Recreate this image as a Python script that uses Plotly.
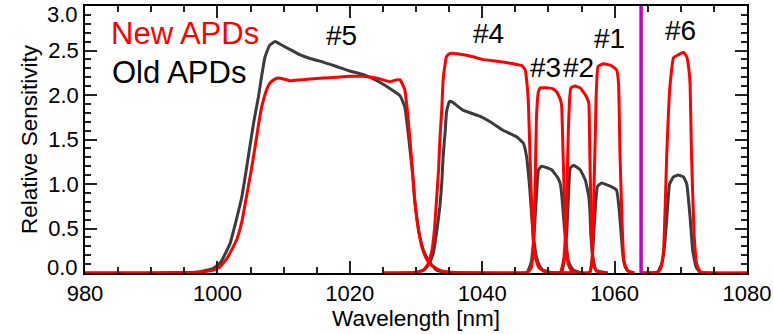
import plotly.graph_objects as go

# ---------------- data ----------------
ch5_new_wl = [980, 990, 996, 998, 999.5, 1000.4, 1001.5, 1002.9, 1003.7, 1004.4, 1005.1, 1005.7, 1006.2, 1006.7,
              1007.3, 1007.9, 1008.5, 1009.2, 1010, 1011, 1012.5, 1014, 1016, 1018, 1020, 1022, 1024, 1025, 1026.1,
              1027, 1027.6, 1028.3, 1028.7, 1029.1, 1029.5, 1029.8, 1030.3, 1030.9, 1031.5, 1032.1, 1033.6, 1036, 1045]
ch5_new = [0, 0, 0.005, 0.015, 0.035, 0.07, 0.17, 0.37, 0.58, 0.86, 1.15, 1.42, 1.66, 1.87,
           2.03, 2.13, 2.17, 2.19, 2.18, 2.16, 2.17, 2.18, 2.19, 2.20, 2.21, 2.21, 2.19, 2.17, 2.15,
           2.17, 2.17, 2.06, 1.82, 1.49, 1.12, 0.82, 0.52, 0.29, 0.17, 0.10, 0.03, 0.005, 0]

ch5_old_wl = [980, 990, 995, 997.4, 999.3, 1000.5, 1001.9, 1002.8, 1003.7, 1004.3, 1004.9, 1005.5, 1006.2, 1006.7,
              1007.2, 1007.9, 1008.7, 1009.5, 1011, 1012.5, 1014, 1016, 1018, 1020, 1022, 1023, 1024.6, 1026.1,
              1027.6, 1028.3, 1028.7, 1029.1, 1029.5, 1029.8, 1030.2, 1030.6, 1031.2, 1031.9, 1033.1, 1035, 1045]
ch5_old = [0, 0, 0.005, 0.015, 0.05, 0.12, 0.33, 0.58, 0.86, 1.13, 1.42, 1.70, 1.98, 2.22,
           2.43, 2.56, 2.60, 2.57, 2.51, 2.45, 2.41, 2.37, 2.32, 2.27, 2.23, 2.20, 2.14, 2.07,
           1.99, 1.87, 1.65, 1.38, 1.10, 0.82, 0.58, 0.40, 0.24, 0.14, 0.03, 0.005, 0]

ch4_new_wl = [1025, 1030, 1031.1, 1031.8, 1032.4, 1032.8, 1033.1, 1033.4, 1033.6, 1033.9, 1034.1, 1034.4, 1034.6,
              1035.0, 1035.4, 1036.5, 1038.6, 1040, 1042.2, 1044, 1045.4, 1046.0, 1046.5, 1046.8, 1047.0, 1047.3,
              1047.5, 1047.7, 1048.0, 1048.5, 1049.5, 1055]
ch4_new = [0, 0.005, 0.03, 0.10, 0.25, 0.50, 0.82, 1.15, 1.49, 1.85, 2.17, 2.35, 2.43,
           2.46, 2.47, 2.46, 2.43, 2.40, 2.38, 2.36, 2.34, 2.33, 2.28, 2.10, 1.87, 1.12,
           0.70, 0.37, 0.18, 0.07, 0.01, 0]

ch4_old_wl = [1025, 1030, 1031.3, 1032.0, 1032.6, 1033.1, 1033.6, 1033.9, 1034.1, 1034.4, 1034.6, 1034.9, 1035.1,
              1035.5, 1037.1, 1039.7, 1041.2, 1043, 1045.2, 1046.2, 1046.7, 1047.0, 1047.2, 1047.5, 1047.7, 1048.2,
              1048.6, 1049.2, 1050.5, 1055]
ch4_old = [0, 0.005, 0.04, 0.10, 0.22, 0.45, 0.74, 1.02, 1.31, 1.58, 1.80, 1.90, 1.93,
           1.92, 1.83, 1.76, 1.70, 1.61, 1.53, 1.46, 1.31, 1.10, 0.93, 0.62, 0.44, 0.18,
           0.09, 0.03, 0.005, 0]

ch3_new_wl = [1045, 1046.8, 1047.4, 1047.7, 1048.0, 1048.2, 1048.5, 1048.8, 1049.2, 1050, 1050.7, 1051.2, 1051.5,
              1051.8, 1052.0, 1052.2, 1052.5, 1052.7, 1053.0, 1053.5, 1055]
ch3_new = [0, 0.005, 0.06, 0.25, 1.0, 1.76, 2.04, 2.08, 2.08, 2.08, 2.07, 2.04, 2.0,
           1.95, 1.88, 1.38, 0.63, 0.30, 0.10, 0.02, 0]

ch3_old_wl = [1045, 1046.8, 1047.4, 1047.8, 1048.0, 1048.3, 1048.5, 1049.0, 1050.5, 1051.5, 1051.8, 1052.0, 1052.3,
              1052.5, 1052.8, 1053.0, 1053.4, 1053.8, 1055]
ch3_old = [0, 0.01, 0.12, 0.40, 0.63, 1.00, 1.16, 1.20, 1.16, 1.06, 1.0, 0.89, 0.62,
           0.44, 0.24, 0.14, 0.07, 0.03, 0]

ch2_new_wl = [1050, 1051.8, 1052.3, 1052.7, 1053.0, 1053.2, 1053.4, 1054.0, 1054.8, 1055.6, 1056.1, 1056.2, 1056.3,
              1056.5, 1056.7, 1056.9, 1057.4, 1059]
ch2_new = [0, 0.005, 0.15, 0.63, 1.57, 1.95, 2.08, 2.10, 2.08, 2.0, 1.91, 1.60, 1.19,
           0.44, 0.18, 0.07, 0.01, 0]

ch2_old_wl = [1050, 1052, 1052.5, 1052.8, 1053.0, 1053.3, 1053.8, 1054.8, 1055.6, 1056.1, 1056.3, 1056.4, 1056.6,
              1056.8, 1057.2, 1059]
ch2_old = [0, 0.01, 0.2, 0.5, 0.82, 1.18, 1.21, 1.16, 1.04, 0.86, 0.65, 0.44, 0.25,
           0.14, 0.03, 0]

ch1_new_wl = [1054, 1056.2, 1056.6, 1056.9, 1057.1, 1057.2, 1057.5, 1058.3, 1059.5, 1060.3, 1060.6, 1060.8, 1061.1,
              1061.4, 1061.9, 1063]
ch1_new = [0, 0.005, 0.15, 1.0, 1.6, 1.95, 2.32, 2.35, 2.33, 2.28, 2.13, 1.38, 0.63,
           0.14, 0.03, 0]

ch1_old_wl = [1054, 1056.3, 1056.7, 1057.0, 1057.4, 1058.0, 1059.5, 1060.3, 1060.7, 1061.1, 1061.3, 1061.6, 1062.2, 1063]
ch1_old = [0, 0.01, 0.25, 0.63, 0.97, 1.01, 0.97, 0.93, 0.71, 0.33, 0.17, 0.07, 0.01, 0]

ch6_new_wl = [1064, 1066.5, 1067.0, 1067.4, 1067.9, 1068.2, 1068.4, 1068.9, 1069.6, 1070.4, 1070.9, 1071.2, 1071.4,
              1071.6, 1072.0, 1072.4, 1073, 1080]
ch6_new = [0, 0.005, 0.06, 0.25, 1.38, 1.90, 2.13, 2.42, 2.45, 2.48, 2.43, 2.30, 2.13,
           1.38, 0.44, 0.10, 0.01, 0]

ch6_old_wl = [1064, 1066.5, 1067.2, 1067.6, 1067.9, 1068.3, 1068.9, 1069.6, 1070.4, 1070.9, 1071.4, 1071.8, 1072.3,
              1072.9, 1080]
ch6_old = [0, 0.01, 0.12, 0.35, 0.63, 1.0, 1.08, 1.10, 1.08, 1.0, 0.63, 0.25, 0.07, 0.01, 0]

laser_wl = 1064
channel_names = ["#5", "#4", "#3", "#2", "#1", "#6"]
channel_label_x = [1018.7, 1040.9, 1049.5, 1054.5, 1059.2, 1069.9]
channel_label_y = [2.67, 2.69, 2.31, 2.31, 2.63, 2.72]
series_names = ["New APDs", "Old APDs"]
y_tick_vals = [0.0, 0.5, 1.0, 1.5, 2.0, 2.5, 3.0]
x_range = [980, 1080]
y_range = [0, 3]

# ---------------- figure ----------------
FONT = "Liberation Sans, Arial, sans-serif"
RED = "#ff0000"
DARK = "#3c3c3c"
MAGENTA = "#c000c8"
TICKSIZE = 22
TICKCOL = "#222222"

new_sets = [(ch5_new_wl, ch5_new), (ch4_new_wl, ch4_new), (ch3_new_wl, ch3_new),
            (ch2_new_wl, ch2_new), (ch1_new_wl, ch1_new), (ch6_new_wl, ch6_new)]
old_sets = [(ch5_old_wl, ch5_old), (ch4_old_wl, ch4_old), (ch3_old_wl, ch3_old),
            (ch2_old_wl, ch2_old), (ch1_old_wl, ch1_old), (ch6_old_wl, ch6_old)]

fig = go.Figure()
for wl, v in old_sets:
    fig.add_trace(go.Scatter(x=wl, y=v, mode="lines", showlegend=False, hoverinfo="skip",
                             line=dict(color=DARK, width=3, shape="spline", smoothing=0.35)))
for wl, v in new_sets:
    fig.add_trace(go.Scatter(x=wl, y=v, mode="lines", showlegend=False, hoverinfo="skip",
                             line=dict(color=RED, width=3, shape="spline", smoothing=0.35)))
fig.add_trace(go.Scatter(x=[laser_wl, laser_wl], y=y_range, mode="lines", showlegend=False,
                         hoverinfo="skip", line=dict(color=MAGENTA, width=3.5)))
# invisible helper trace on the top/right axes so that their ticks are drawn
fig.add_trace(go.Scatter(x=x_range, y=y_range, xaxis="x2", yaxis="y2", mode="lines",
                         line=dict(width=0), opacity=0, showlegend=False, hoverinfo="skip"))

for name, x, y in zip(channel_names, channel_label_x, channel_label_y):
    fig.add_annotation(x=x, y=y, xref="x", yref="y", text=name, showarrow=False,
                       font=dict(family=FONT, size=28, color="black"))

L, R, T, B = 85, 26, 6, 61
W, H = 773, 334
pw, ph = W - L - R, H - T - B

def px2paper(x, y):
    return (x - L) / pw, 1 - (y - T) / ph

for txt, col, (px, py) in zip(series_names, [RED, "black"], [(109, 33), (110, 73)]):
    ax_, ay_ = px2paper(px, py)
    fig.add_annotation(x=ax_, y=ay_, xref="paper", yref="paper", text=txt, showarrow=False,
                       xanchor="left", yanchor="middle", font=dict(family=FONT, size=31, color=col))

# y tick labels: the end labels are nudged inward (as in the original), so draw them as annotations
y_tick_text = ["" if v in (y_tick_vals[0], y_tick_vals[-1]) else f"{v:.1f}" for v in y_tick_vals]
for v, shift in [(y_tick_vals[0], 6), (y_tick_vals[-1], -8)]:
    fig.add_annotation(x=0, y=v, xref="paper", yref="y", text=f"{v:.1f}", showarrow=False,
                       xanchor="right", yanchor="middle", xshift=-5, yshift=shift,
                       font=dict(family=FONT, size=TICKSIZE, color="black"))

tick_style = dict(ticks="inside", ticklen=12, tickwidth=1.5, tickcolor=TICKCOL,
                  showgrid=False, zeroline=False)
axis_common = dict(showline=True, linecolor="black", linewidth=1.5, mirror=True, layer="above traces",
                   tickfont=dict(family=FONT, size=TICKSIZE, color="black"), **tick_style)
x_minor = dict(dtick=5, ticks="inside", ticklen=6, tickwidth=1.5, tickcolor=TICKCOL, tick0=980, showgrid=False)
y_minor = dict(dtick=0.1, ticks="inside", ticklen=6, tickwidth=1.5, tickcolor=TICKCOL, tick0=0, showgrid=False)

fig.update_layout(
    xaxis=dict(range=x_range, tick0=980, dtick=20, minor=x_minor,
               title=dict(text="Wavelength [nm]", font=dict(family=FONT, size=22.5, color="black"), standoff=2),
               **axis_common),
    yaxis=dict(range=y_range, tickmode="array", tickvals=y_tick_vals, ticktext=y_tick_text, minor=y_minor,
               title=dict(text="Relative Sensitivity", font=dict(family=FONT, size=22.5, color="black"), standoff=4),
               **axis_common),
    xaxis2=dict(range=x_range, overlaying="x", side="top", anchor="y", tick0=980, dtick=20,
                minor=x_minor, showticklabels=False, showline=False, **tick_style),
    yaxis2=dict(range=y_range, overlaying="y", side="right", anchor="x", tickmode="array",
                tickvals=y_tick_vals, minor=y_minor, showticklabels=False, showline=False, **tick_style),
    width=W, height=H, margin=dict(l=L, r=R, t=T, b=B, autoexpand=False),
    paper_bgcolor="white", plot_bgcolor="white", showlegend=False,
)

fig.write_html("out.html")
